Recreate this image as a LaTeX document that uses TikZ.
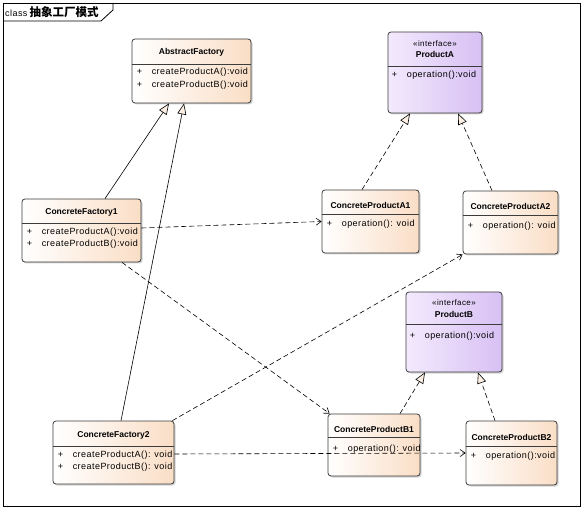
\documentclass[tikz,border=0pt]{standalone}
\usepackage{fontspec}
\setmainfont{Liberation Sans}
\newfontfamily\cjk{Noto Sans CJK SC}
\newfontfamily\wide[LetterSpace=5]{Liberation Sans}
\usetikzlibrary{positioning,arrows.meta,shadows}

\definecolor{clsend}{RGB}{250,222,198}
\definecolor{ifcbeg}{RGB}{243,234,253}
\definecolor{ifcend}{RGB}{216,192,244}
\definecolor{edge}{RGB}{60,60,60}

\tikzset{
  cls/.style={draw=edge, line width=0.8pt, rounded corners=3pt, inner sep=0pt,
    left color=white, right color=clsend,
    drop shadow={opacity=0.35, shadow xshift=1.5pt, shadow yshift=-1.5pt}},
  ifc/.style={cls, left color=ifcbeg, right color=ifcend},
  ttl/.style={font=\fontsize{8.5}{10}\selectfont\bfseries, inner sep=0pt},
  stereo/.style={font=\wide\fontsize{8}{10}\selectfont, inner sep=0pt},
  opr/.style={font=\wide\fontsize{9}{10}\selectfont, anchor=west, inner sep=0pt},
  sep/.style={draw=edge, line width=0.8pt},
  gen/.style={draw=black, line width=0.6pt, -{Triangle[length=11pt,width=9pt,fill=clsend!50]}},
  real/.style={gen, dash pattern=on 5pt off 3pt},
  dep/.style={draw=black, line width=0.6pt, dash pattern=on 5pt off 3pt,
    -{Straight Barb[length=5pt,width=7pt]}}
}

\newcommand{\pl}[1]{\makebox[15pt][l]{+}#1}

\begin{document}
\begin{tikzpicture}[x=1pt,y=-1pt]
  \useasboundingbox (0,0) rectangle (583,510);

  % frame
  \draw[line width=0.8pt] (3,3) rectangle (580,506);
  \draw[line width=0.8pt] (3,21) -- (101,21) -- (113,10) -- (113,3);
  \node[anchor=west, inner sep=0pt] (frametitle) at (5,12)
    {\wide\fontsize{9}{10}\selectfont class\hspace{2pt}\cjk\bfseries\fontsize{11.5}{12}\selectfont 抽象工厂模式};

  % classes
  \node[cls, minimum width=119pt, minimum height=64pt] (af) at (191.5,71) {};
  \node[ttl] (aft) at ([yshift=-14pt]af.north) {AbstractFactory};
  \draw[sep] ([yshift=-26pt]af.north west) -- ([yshift=-26pt]af.north east);
  \node[opr] (afo1) at ([xshift=5pt,yshift=-34pt]af.north west) {\pl{createProductA():void}};
  \node[opr] (afo2) at ([xshift=5pt,yshift=-47pt]af.north west) {\pl{createProductB():void}};

  \node[ifc, minimum width=94pt, minimum height=81pt] (pa) at (435,72.5) {};
  \node[stereo] (pas) at ([yshift=-12pt]pa.north) {«interface»};
  \node[ttl] (pat) at ([yshift=-23pt]pa.north) {ProductA};
  \draw[sep] ([yshift=-35pt]pa.north west) -- ([yshift=-35pt]pa.north east);
  \node[opr] (pao) at ([xshift=4pt,yshift=-44pt]pa.north west) {\pl{operation():void}};

  \node[cls, minimum width=119pt, minimum height=63pt] (cf1) at (81.5,230.5) {};
  \node[ttl] (cf1t) at ([yshift=-14pt]cf1.north) {ConcreteFactory1};
  \draw[sep] ([yshift=-25pt]cf1.north west) -- ([yshift=-25pt]cf1.north east);
  \node[opr] (cf1o1) at ([xshift=5pt,yshift=-34pt]cf1.north west) {\pl{createProductA():void}};
  \node[opr] (cf1o2) at ([xshift=5pt,yshift=-46pt]cf1.north west) {\pl{createProductB():void}};

  \node[cls, minimum width=97pt, minimum height=63pt] (a1) at (370.5,221.5) {};
  \node[ttl] (a1t) at ([yshift=-16pt]a1.north) {ConcreteProductA1};
  \draw[sep] ([yshift=-25pt]a1.north west) -- ([yshift=-25pt]a1.north east);
  \node[opr] (a1o) at ([xshift=5pt,yshift=-35pt]a1.north west) {\pl{operation(): void}};

  \node[cls, minimum width=95pt, minimum height=63pt] (a2) at (510.5,222.5) {};
  \node[ttl] (a2t) at ([yshift=-16pt]a2.north) {ConcreteProductA2};
  \draw[sep] ([yshift=-25pt]a2.north west) -- ([yshift=-25pt]a2.north east);
  \node[opr] (a2o) at ([xshift=5pt,yshift=-36pt]a2.north west) {\pl{operation(): void}};

  \node[ifc, minimum width=96pt, minimum height=80pt] (pb) at (454,332) {};
  \node[stereo] (pbs) at ([yshift=-11pt]pb.north) {«interface»};
  \node[ttl] (pbt) at ([yshift=-23pt]pb.north) {ProductB};
  \draw[sep] ([yshift=-33pt]pb.north west) -- ([yshift=-33pt]pb.north east);
  \node[opr] (pbo) at ([xshift=4pt,yshift=-45pt]pb.north west) {\pl{operation():void}};

  \node[cls, minimum width=121pt, minimum height=63pt] (cf2) at (113.5,452.5) {};
  \node[ttl] (cf2t) at ([yshift=-15pt]cf2.north) {ConcreteFactory2};
  \draw[sep] ([yshift=-26pt]cf2.north west) -- ([yshift=-26pt]cf2.north east);
  \node[opr] (cf2o1) at ([xshift=5pt,yshift=-35pt]cf2.north west) {\pl{createProductA(): void}};
  \node[opr] (cf2o2) at ([xshift=5pt,yshift=-47pt]cf2.north west) {\pl{createProductB(): void}};

  \node[cls, minimum width=92pt, minimum height=62pt] (b1) at (374,445) {};
  \node[ttl] (b1t) at ([yshift=-16pt]b1.north) {ConcreteProductB1};
  \draw[sep] ([yshift=-24pt]b1.north west) -- ([yshift=-24pt]b1.north east);
  \node[opr] (b1o) at ([xshift=5pt,yshift=-36pt]b1.north west) {\pl{operation(): void}};

  \node[cls, minimum width=91pt, minimum height=64pt] (b2) at (511.5,453) {};
  \node[ttl] (b2t) at ([yshift=-17pt]b2.north) {ConcreteProductB2};
  \draw[sep] ([yshift=-26pt]b2.north west) -- ([yshift=-26pt]b2.north east);
  \node[opr] (b2o) at ([xshift=5pt,yshift=-36pt]b2.north west) {\pl{operation():void}};

  % generalization / realization
  \draw[gen] ([xshift=23.5pt]cf1.north) -- ([xshift=-22.5pt]af.south);
  \draw[gen] ([xshift=7.5pt]cf2.north) -- ([xshift=-7.5pt]af.south);
  \draw[real] ([xshift=-8.5pt]a1.north) -- ([xshift=-25pt]pa.south);
  \draw[real] ([xshift=-18.5pt]a2.north) -- ([xshift=23pt]pa.south);
  \draw[real] ([xshift=26pt]b1.north) -- ([xshift=-29pt]pb.south);
  \draw[real] ([xshift=-16.5pt]b2.north) -- ([xshift=24pt]pb.south);

  % dependencies
  \draw[dep] ([yshift=2.5pt]cf1.east) -- (a1.west);
  \draw[dep] ([xshift=40.5pt]cf1.south) -- ([xshift=2pt]b1.north west);
  \draw[dep] ([xshift=-2pt]cf2.north east) -- (a2.south west);
  \draw[dep] ([yshift=-1.5pt]cf2.east) -- (b2.west);
\end{tikzpicture}
\end{document}
